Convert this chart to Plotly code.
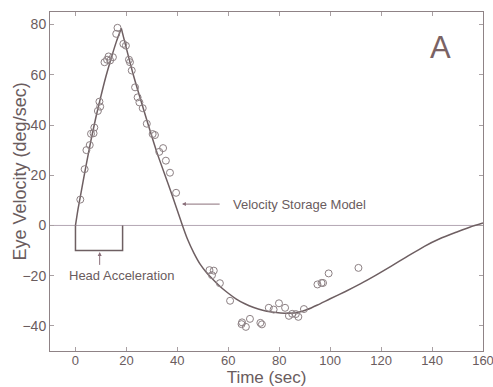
import plotly.graph_objects as go

# Measured eye velocity (open circles)
data_t = [1.9, 3.6, 4.3, 5.6, 6.1, 7.1, 7.4, 8.8, 9.4, 9.7, 11.4, 12.4, 13.0, 13.6, 14.7, 16.0, 16.5,
          18.8, 19.8, 21.0, 21.4, 22.1, 23.4, 24.4, 25.1, 26.4, 28.0, 30.3, 31.2, 32.9, 34.4, 35.5, 37.1, 39.5,
          52.6, 54.3, 53.6, 56.7, 60.7, 65.4, 66.9, 65.2, 68.5, 72.6, 73.2, 75.9, 77.8, 79.9, 82.3,
          83.8, 85.1, 86.5, 87.5, 89.7, 95.0, 96.6, 97.2, 99.4, 111.1]
data_v = [10.3, 22.4, 30.0, 32.0, 36.5, 36.7, 39.0, 45.6, 49.3, 47.3, 65.0, 66.0, 67.3, 65.7, 67.0, 76.3, 78.7,
          72.3, 71.6, 66.0, 65.0, 61.7, 55.0, 51.0, 49.0, 46.7, 40.5, 36.4, 36.0, 29.3, 30.8, 25.8, 21.0, 13.0,
          -17.8, -18.0, -19.8, -23.0, -30.0, -38.6, -40.4, -39.3, -37.2, -38.8, -39.4, -32.8, -33.5, -31.0, -32.8,
          -36.0, -35.2, -35.3, -36.4, -33.3, -23.5, -22.9, -22.9, -19.1, -16.9]

# Velocity storage model curve; rising branch then decaying branch
rise_t = [0, 1, 2, 4, 6, 8, 10, 12, 14, 16, 18]
rise_v = [0, 6.5, 12, 23, 33.5, 43, 51.5, 59.5, 66.5, 73, 78.5]
decay_t = [18, 22.7, 28, 32, 36.4, 40, 42, 44, 46.5, 49, 51.5, 54, 57, 60, 63, 66.5, 70, 73.5, 77, 80.5, 84,
           87.5, 91, 95, 100, 106, 112, 118, 124, 130, 137, 143, 150, 155, 160]
decay_v = [78.5, 60, 42, 29, 16.5, 6, 0, -5.5, -11, -15.5, -18.8, -21.5, -24.5, -27, -29.2, -31.2, -32.7, -33.8,
           -34.5, -34.9, -35, -34.6, -33.5, -31.7, -29.2, -26.3, -23.2, -19.8, -16.2, -12.5, -8.3, -5.3, -2.5, -0.6, 1]

# Head acceleration pulse (0-18.5 s)
head_t = [0, 0, 18.5, 18.5]
head_v = [0, -10, -10, 0]

x_ticks = [0, 20, 40, 60, 80, 100, 120, 140, 160]
y_ticks = [-40, -20, 0, 20, 40, 60, 80]

line_col = "#6e5f62"
text_col = "#6a5c5e"
font_family = "Liberation Sans, Arial, sans-serif"

fig = go.Figure()
fig.add_trace(go.Scatter(x=[-10, 160], y=[0, 0], mode="lines",
                         line=dict(color="#b3a6b3", width=1), hoverinfo="skip", showlegend=False))
fig.add_trace(go.Scatter(x=head_t, y=head_v, mode="lines",
                         line=dict(color=line_col, width=1.5), showlegend=False))
fig.add_trace(go.Scatter(x=rise_t, y=rise_v, mode="lines", line_shape="spline",
                         line=dict(color=line_col, width=1.5, smoothing=0.6), showlegend=False))
fig.add_trace(go.Scatter(x=decay_t, y=decay_v, mode="lines", line_shape="spline",
                         line=dict(color=line_col, width=1.5, smoothing=0.6), showlegend=False))
fig.add_trace(go.Scatter(x=data_t, y=data_v, mode="markers",
                         marker=dict(symbol="circle-open", size=7, color="#8c8083",
                                     line=dict(width=1, color="#8c8083")),
                         showlegend=False))

annotations = [
    dict(x=41.8, y=8.5, ax=57.2, ay=8.5, xref="x", yref="y", axref="x", ayref="y",
         text="", showarrow=True, arrowhead=2, arrowsize=0.8, arrowwidth=1, arrowcolor="#8a6f7a"),
    dict(x=61, y=8.5, xref="x", yref="y", text="Velocity Storage Model", showarrow=False,
         xanchor="left", yanchor="middle", font=dict(size=13, color=text_col, family=font_family)),
    dict(x=9.5, y=-10.6, ax=9.5, ay=-16.3, xref="x", yref="y", axref="x", ayref="y",
         text="", showarrow=True, arrowhead=2, arrowsize=0.8, arrowwidth=1, arrowcolor="#8a6f7a"),
    dict(x=18.3, y=-20, xref="x", yref="y", text="Head Acceleration", showarrow=False,
         xanchor="center", yanchor="middle", font=dict(size=13, color=text_col, family=font_family)),
    dict(x=143.5, y=70.8, xref="x", yref="y", text="A", showarrow=False,
         xanchor="center", yanchor="middle", font=dict(size=31, color="#7a6264", family=font_family)),
    dict(x=-0.069, y=0.53, xref="paper", yref="paper", text="Eye Velocity (deg/sec)", showarrow=False,
         textangle=-90, xanchor="center", yanchor="middle",
         font=dict(size=18, color=text_col, family=font_family)),
]

fig.update_layout(
    width=493, height=387,
    margin=dict(l=50, r=10, t=12, b=36),
    paper_bgcolor="white", plot_bgcolor="white",
    font=dict(family=font_family, color=text_col, size=14),
    annotations=annotations,
)
fig.update_xaxes(range=[-10, 160], tickvals=x_ticks, ticks="inside", ticklen=4, tickcolor="#a9a0a3",
                 showline=True, linecolor="#8f8386", linewidth=1, mirror="ticks", showgrid=False,
                 zeroline=False, tickfont=dict(size=13), automargin=False, ticklabeloverflow="allow",
                 ticklabelstandoff=-3,
                 title=dict(text="Time (sec)", font=dict(size=17), standoff=3))
fig.update_yaxes(range=[-50, 85], tickvals=y_ticks, ticks="inside", ticklen=4, tickcolor="#a9a0a3",
                 showline=True, linecolor="#8f8386", linewidth=1, mirror="ticks", showgrid=False,
                 zeroline=False, tickfont=dict(size=14), automargin=False)

fig.write_html("out.html", config={"displayModeBar": False},
               post_script="document.body.style.margin='0';")
